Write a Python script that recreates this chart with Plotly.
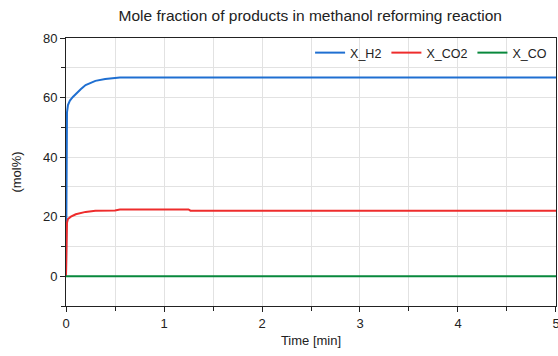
import plotly.graph_objects as go

t_h2 = [0, 0.002, 0.005, 0.01, 0.02, 0.04, 0.07, 0.1, 0.15, 0.2, 0.25, 0.3, 0.4, 0.5, 0.55, 1.0, 2.0, 3.0, 4.0, 5.0]
x_h2 = [0, 20, 45, 55, 57.5, 59.0, 60.2, 61.3, 62.8, 64.2, 65.0, 65.6, 66.2, 66.6, 66.7, 66.7, 66.7, 66.7, 66.7, 66.7]

t_co2 = [0, 0.003, 0.006, 0.01, 0.02, 0.05, 0.1, 0.15, 0.2, 0.3, 0.5, 0.55, 1.0, 1.25, 1.27, 2.0, 3.0, 4.0, 5.0]
x_co2 = [0, 7, 15, 18, 19.2, 20.0, 20.8, 21.3, 21.6, 22.0, 22.1, 22.4, 22.4, 22.4, 22.0, 22.0, 22.0, 22.0, 22.0]

t_co = [0, 1, 2, 3, 4, 5]
x_co = [0, 0, 0, 0, 0, 0]

series = [
    ("X_H2", t_h2, x_h2, "#1f6fd1"),
    ("X_CO2", t_co2, x_co2, "#ee2c2c"),
    ("X_CO", t_co, x_co, "#08883c"),
]

fig = go.Figure()
for name, t, v, c in series:
    fig.add_trace(go.Scatter(x=t, y=v, name=name, mode="lines",
                             line=dict(color=c, width=2)))

font = dict(family="Liberation Sans, Arial, sans-serif", size=13, color="#222")

fig.update_layout(
    width=558, height=356,
    margin=dict(l=66, r=2, t=38, b=50, autoexpand=False),
    paper_bgcolor="white", plot_bgcolor="white",
    font=font,
    title=dict(text="Mole fraction of products in methanol reforming reaction",
               x=0.556, xanchor="center", y=0.955, yanchor="middle",
               font=dict(size=15.5, color="#222")),
    showlegend=True,
    legend=dict(orientation="h", x=0.992, xanchor="right", y=1.0, yanchor="top",
                bgcolor="rgba(0,0,0,0)", font=dict(size=12.5, color="#222"),
                itemwidth=30, tracegroupgap=0),
)

fig.update_xaxes(
    range=[0, 5.0001], dtick=1, tick0=0, automargin=False,
    ticklabeloverflow="allow",
    showline=True, linecolor="#222", linewidth=1, mirror=True,
    ticks="outside", ticklen=5, tickcolor="#222",
    showgrid=True, gridcolor="#e2e2e2", gridwidth=1,
    zeroline=False,
    minor=dict(dtick=0.5, tick0=0, ticks="outside", ticklen=4, tickcolor="#222",
               showgrid=True, gridcolor="#e2e2e2"),
    title=dict(text="Time [min]", standoff=6, font=dict(size=13)),
)
fig.update_yaxes(
    range=[-10, 80], dtick=20, tick0=0, automargin=False,
    showline=True, linecolor="#222", linewidth=1, mirror=True,
    ticks="outside", ticklen=5, tickcolor="#222",
    showgrid=True, gridcolor="#e2e2e2", gridwidth=1,
    zeroline=False,
    minor=dict(dtick=10, tick0=0, ticks="outside", ticklen=4, tickcolor="#222",
               showgrid=True, gridcolor="#e2e2e2"),
    title=dict(text="(mol%)", standoff=18, font=dict(size=13)),
)

fig.write_html("out.html")
